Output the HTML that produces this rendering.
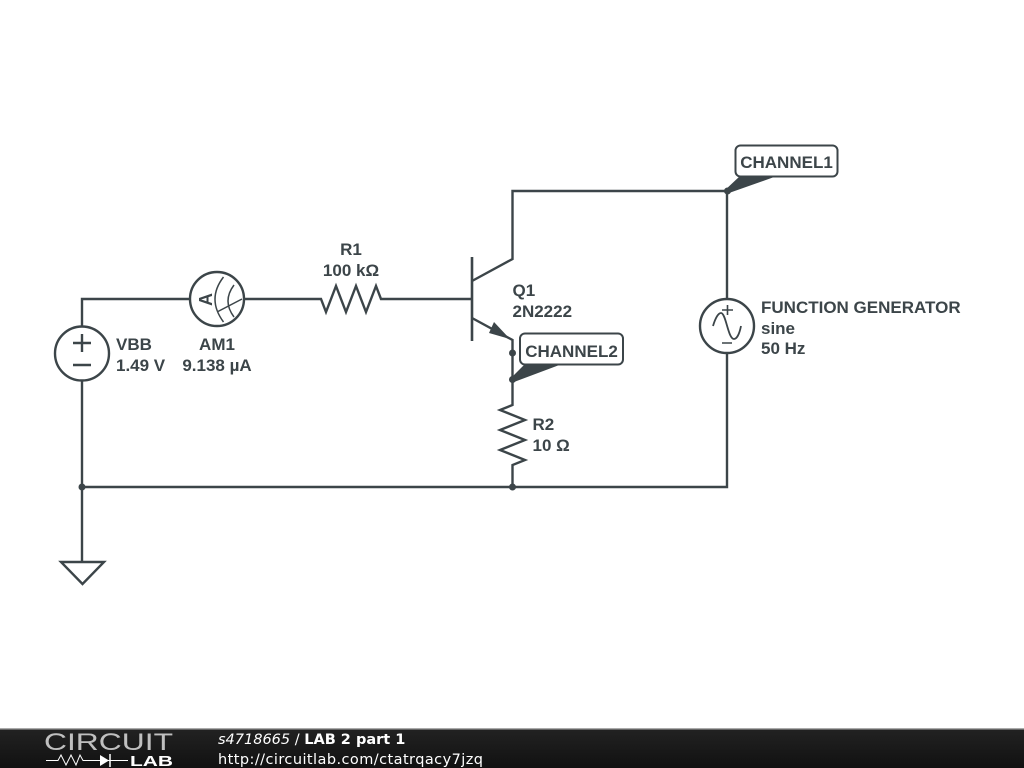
<!DOCTYPE html>
<html><head><meta charset="utf-8">
<style>
html,body{margin:0;padding:0;background:#fff;width:1024px;height:768px;overflow:hidden}
svg{display:block}
.t{font-family:"Liberation Sans",sans-serif;font-size:17px;font-weight:700;fill:#3c4549}
.f{font-family:"DejaVu Sans",sans-serif;font-size:14.5px;fill:#fff}
</style></head><body>
<svg width="1024" height="768" viewBox="0 0 1024 768" xmlns="http://www.w3.org/2000/svg">
<defs><linearGradient id="g" x1="0" y1="0" x2="0" y2="1"><stop offset="0" stop-color="#222"/><stop offset="1" stop-color="#111"/></linearGradient></defs>
<g fill="none" stroke="#3c4549" stroke-width="2.4">
<!-- wires -->
<path d="M82 326V299H189M245 299H321L326 312L336 286L346 312L356 286L366 312L376 286L381 299H472"/>
<path d="M82 381V562"/>
<path d="M82 487H727V354"/>
<path d="M727 298V191H512.500V259L472 281"/>
<path d="M472 257V341" stroke-width="2.600"/>
<path d="M472 318L512.500 340V405L500 410L525 420L500 430L525 440L500 450L525 460L512.500 465V487"/>
<!-- VBB -->
<circle cx="82" cy="353.500" r="27"/>
<path d="M73 343H91M82 334V352M73 365H91"/>
<!-- AM1 -->
<circle cx="217" cy="299" r="27"/>
<path d="M223.500 277Q206.500 299 223.500 322M234 285Q222 301 234 317M217 312L242 299" stroke-width="1.500"/>
<!-- FG -->
<circle cx="727" cy="326" r="27"/>
<path d="M713 326C716 316 719 313 721 313C726 313 728 339 734 339C736 339 739 336 741 326" stroke-width="1.800"/>
<path d="M722 310H733M727.500 305V315M722 343H732" stroke-width="1.600"/>
<!-- ground -->
<path d="M61 562H104L82.500 584Z"/>
</g>
<!-- arrow -->
<path d="M494 322L489 333L510 339Z" fill="#3c4549"/>
<!-- junctions -->
<g fill="#3c4549">
<circle cx="82" cy="487" r="3.500"/><circle cx="512.500" cy="487" r="3.500"/>
<circle cx="727.500" cy="191" r="3.500"/><circle cx="512.500" cy="353" r="3.500"/><circle cx="512.500" cy="379.500" r="3.500"/>
<path d="M724 191L740 176H777L729 193Z"/>
<path d="M509 380L525 364H562L514 382Z"/>
</g>
<!-- flags -->
<rect x="735.500" y="145.500" width="102" height="31" rx="5" fill="#fff" stroke="#3c4549" stroke-width="2"/>
<rect x="520" y="333.500" width="103" height="31" rx="5" fill="#fff" stroke="#3c4549" stroke-width="2"/>
<!-- labels -->
<text class="t" x="786.500" y="168" text-anchor="middle">CHANNEL1</text>
<text class="t" x="571.500" y="357" text-anchor="middle">CHANNEL2</text>
<text class="t" x="351" y="255" text-anchor="middle">R1</text>
<text class="t" x="351" y="276" text-anchor="middle">100 kΩ</text>
<text class="t" x="512.500" y="296">Q1</text>
<text class="t" x="512.500" y="317">2N2222</text>
<text class="t" x="116" y="350">VBB</text>
<text class="t" x="116" y="371">1.49 V</text>
<text class="t" x="217" y="350" text-anchor="middle">AM1</text>
<text class="t" x="217" y="371" text-anchor="middle">9.138 µA</text>
<text class="t" x="532.500" y="430">R2</text>
<text class="t" x="532.500" y="451">10 Ω</text>
<text class="t" x="761" y="313">FUNCTION GENERATOR</text>
<text class="t" x="761" y="334">sine</text>
<text class="t" x="761" y="354">50 Hz</text>
<text class="t" transform="translate(212,299.500) rotate(-90)" text-anchor="middle" style="font-size:18px">A</text>
<!-- footer -->
<rect x="0" y="729" width="1024" height="39" fill="url(#g)"/>
<rect x="0" y="728" width="1024" height="1.500" fill="#aaa"/>
<text x="44" y="750" font-family="Liberation Sans,sans-serif" font-size="24" fill="#fff" textLength="129" lengthAdjust="spacingAndGlyphs" style="font-weight:400;opacity:.72">CIRCUIT</text>
<path d="M46 760.500H58L61 755L66 765L71 755L76 765L80 755L83 760.500H100M108 760.500H128" fill="none" stroke="#fff" stroke-width="1"/>
<path d="M100 755V766L109 760.500Z" fill="#fff"/>
<path d="M110 754V767" stroke="#fff" stroke-width="1.500"/>
<text x="130" y="766" font-family="Liberation Sans,sans-serif" font-size="14.500" font-weight="700" fill="#fff" textLength="43" lengthAdjust="spacingAndGlyphs">LAB</text>
<text class="f" x="218" y="744"><tspan font-style="italic">s4718665</tspan> / <tspan font-weight="700">LAB 2 part 1</tspan></text>
<text class="f" x="218" y="764" textLength="265">http://circuitlab.com/ctatrqacy7jzq</text>
</svg>
</body></html>
